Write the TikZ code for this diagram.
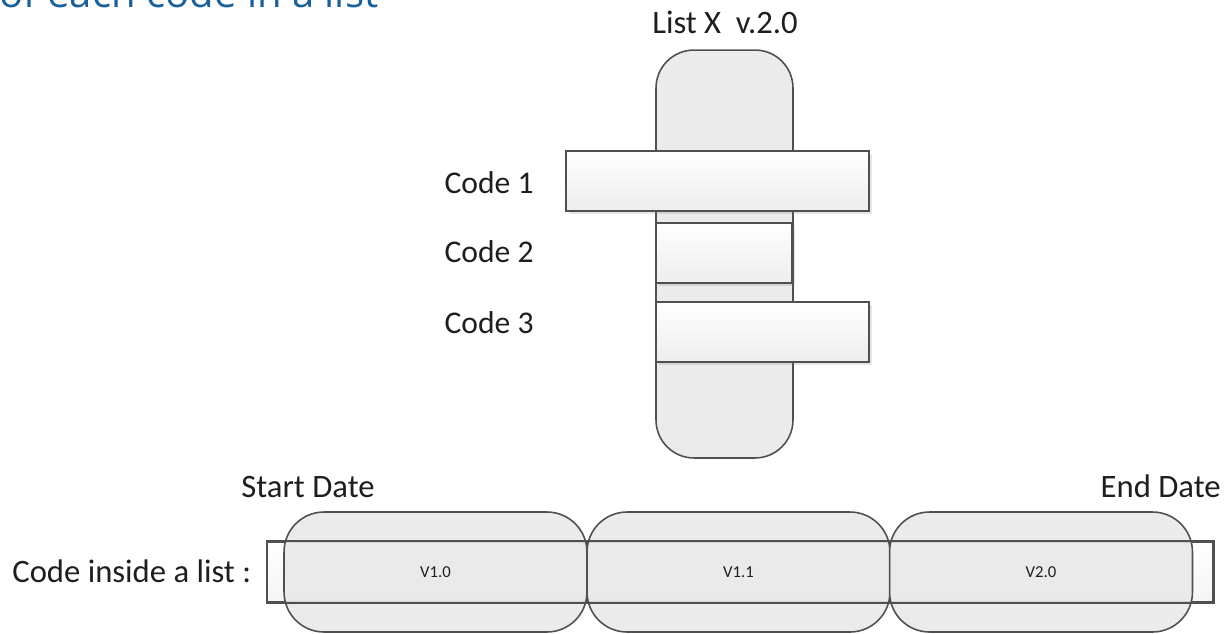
\documentclass[tikz,border=0pt]{standalone}
\usepackage{fontspec}
\setmainfont{Carlito}
\newfontfamily\titlefont{Open Sans}
\usetikzlibrary{shadows}
\definecolor{titleblue}{RGB}{28,96,152}
\definecolor{edgegray}{RGB}{80,80,80}
\definecolor{textgray}{RGB}{30,30,30}

\tikzset{
  lbl/.style={inner sep=0pt, text=textgray, font=\fontsize{18}{21}\selectfont},
  biglbl/.style={lbl, font=\fontsize{18.6}{22}\selectfont},
  ver/.style={text=textgray, font=\fontsize{9.5}{11}\selectfont},
  codebox/.style={draw=edgegray, line width=0.9pt, inner sep=0pt, minimum height=1.2cm,
    top color=white, bottom color=gray!14,
    drop shadow={opacity=0.2, shadow xshift=0.06cm, shadow yshift=-0.06cm}},
  listbar/.style={draw=edgegray, line width=0.9pt, fill=gray!16, rounded corners=0.76cm,
    minimum width=2.74cm, minimum height=8.16cm},
  verbox/.style={draw=edgegray, line width=0.9pt, fill=gray!18, fill opacity=0.85, text opacity=1,
    rounded corners=0.8cm, minimum width=6.06cm, minimum height=2.4cm, ver},
}

\begin{document}
\begin{tikzpicture}[x=0.02cm, y=-0.02cm]
\useasboundingbox (0,0) rectangle (1230,633);

\node[anchor=base west, inner sep=0pt, text=titleblue,
  font=\titlefont\fontsize{22.8}{26}\selectfont] (title) at (-1,7) {of each code in a list};

% the list
\node[biglbl, anchor=base] (listname) at (725,33) {List X\ \ v.2.0};
\node[listbar] (bar) at (724.5,254) {};
\node[codebox, minimum width=6.06cm] (c1) at (717.5,181) {};
\node[codebox, minimum width=2.72cm] (c2) at (724,253) {};
\node[codebox, minimum width=4.26cm] (c3) at (762.5,332) {};
\node[lbl, anchor=base east] (l1) at (534,193) {Code 1};
\node[lbl, anchor=base east] (l2) at (534,262) {Code 2};
\node[lbl, anchor=base east] (l3) at (534,333) {Code 3};

% the code
\node[biglbl, anchor=base] (start) at (308,497) {Start Date};
\node[biglbl, anchor=base east] (end) at (1221,497) {End Date};
\node[biglbl, anchor=base west] (inside) at (12,582) {Code inside a list :};
\node[draw=edgegray, line width=0.9pt, top color=white, bottom color=gray!8,
  minimum width=18.92cm, minimum height=1.2cm, inner sep=0pt] (code) at (740,572) {};
\node[verbox] (v10) at (435.5,572) {V1.0};
\node[verbox] (v11) at (738.5,572) {V1.1};
\node[verbox] (v20) at (1041,572) {V2.0};
\draw[edgegray, line width=0.9pt] (code.north west) rectangle (code.south east);
\end{tikzpicture}
\end{document}
